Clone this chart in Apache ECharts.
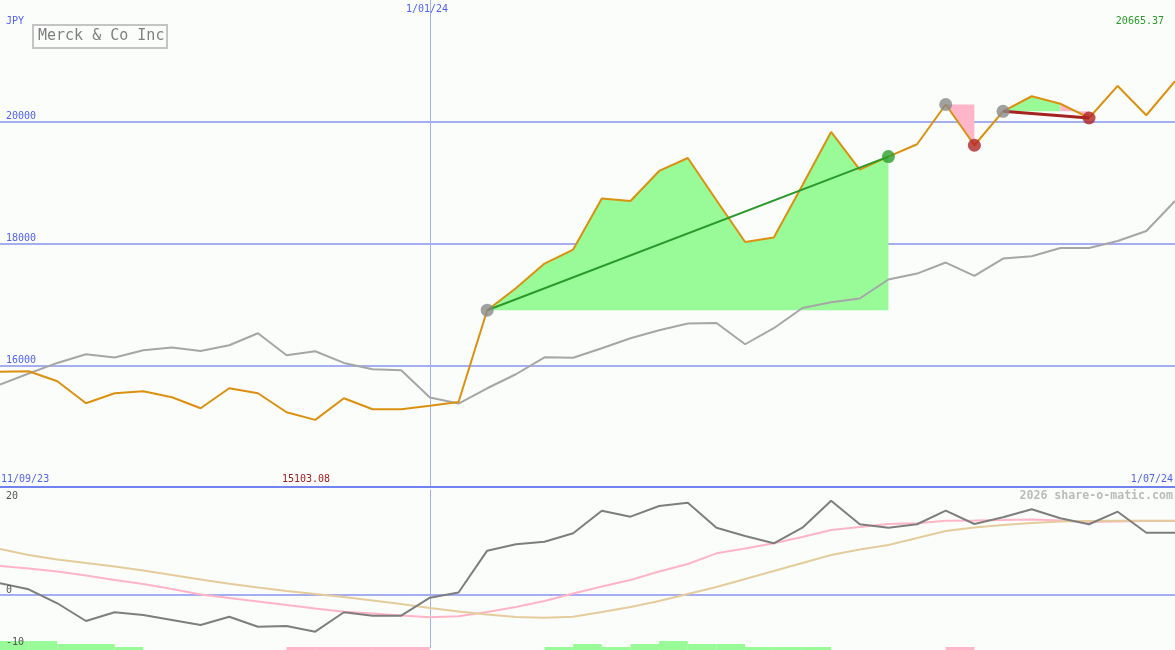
<!DOCTYPE html>
<html>
<head>
<meta charset="utf-8">
<script src="https://cdn.jsdelivr.net/npm/echarts@6/dist/echarts.min.js"></script>
<style>
html,body{margin:0;padding:0;background:#fbfdfb;}
#c{width:1175px;height:650px;}
</style>
</head>
<body>
<div id="c"></div>
<script>
// ---- data ----
const dates = ['18/09/23','25/09/23','2/10/23','9/10/23','16/10/23','23/10/23','30/10/23','6/11/23','13/11/23','20/11/23','27/11/23','4/12/23','11/12/23','18/12/23','25/12/23','1/01/24','8/01/24','15/01/24','22/01/24','29/01/24','5/02/24','12/02/24','19/02/24','26/02/24','4/03/24','11/03/24','18/03/24','25/03/24','1/04/24','8/04/24','15/04/24','22/04/24','29/04/24','6/05/24','13/05/24','20/05/24','27/05/24','3/06/24','10/06/24','17/06/24','24/06/24','1/07/24'];
const price = [15893,15901,15737,15376,15540,15573,15474,15294,15622,15540,15228,15103.08,15458,15277,15277,15335,15397,16904,17265,17671,17901,18738,18699,19192,19405,18710,18025,18098,18957,19832,19215,19428,19630,20283,19614,20172,20419,20296,20062,20588,20107,20665.37];
const bench = [15683,15864,16038,16181,16126,16246,16291,16235,16329,16526,16164,16230,16038,15934,15918,15469,15371,15622,15852,16131,16123,16279,16444,16575,16685,16695,16345,16608,16941,17035,17096,17408,17506,17687,17467,17753,17791,17927,17927,18042,18206,18699];
const osc = [2.22,1.08,-1.57,-4.93,-3.28,-3.80,-4.74,-5.69,-4.12,-6.02,-5.88,-6.96,-3.28,-3.93,-3.93,-0.51,0.47,8.41,9.62,10.11,11.71,16.0,14.86,16.89,17.51,12.77,11.20,9.81,12.77,17.89,13.42,12.77,13.42,16.0,13.47,14.74,16.26,14.55,13.42,15.81,11.82,11.82];
const oscFast = [5.50,5.03,4.46,3.70,2.85,2.09,1.14,0.09,-0.57,-1.23,-1.90,-2.56,-3.17,-3.51,-3.89,-4.23,-4.04,-3.23,-2.28,-1.14,0.28,1.61,2.85,4.46,5.88,7.91,8.82,9.81,11.0,12.33,12.90,13.47,13.6,14.1,14.14,14.23,14.33,14.14,13.85,13.95,14.04,14.04];
const oscSlow = [8.73,7.59,6.74,6.07,5.41,4.65,3.80,2.94,2.14,1.42,0.76,0.19,-0.38,-1.04,-1.71,-2.47,-3.13,-3.70,-4.17,-4.31,-4.12,-3.23,-2.28,-1.14,0.19,1.52,3.04,4.55,6.07,7.59,8.63,9.49,10.82,12.14,12.81,13.28,13.66,13.95,14.04,14.10,14.10,14.10];
const barUp = [3,3,2,2,1,'-','-','-','-','-','-','-','-','-','-','-','-','-','-',1,2,1,2,3,2,2,1,1,1,'-','-','-','-','-','-','-','-','-','-','-','-'];
const barDown = ['-','-','-','-','-','-','-','-','-','-',1,1,1,1,1,'-','-','-','-','-','-','-','-','-','-','-','-','-','-','-','-','-','-',1,'-','-','-','-','-','-','-'];
const priceTicks = [16000, 18000, 20000];
const oscTicks = [0, -10];
const title = 'Merck & Co Inc';
const currency = 'JPY';
const startLabel = '11/09/23';
const endLabel = '1/07/24';
const yearLabel = '1/01/24';
const yearIndex = 15;
const lastLabel = '20665.37';
const minLabel = '15103.08';
const credit = '2026 share-o-matic.com';
// signal segments: [startIndex, endIndex, baseIndex]
const upTrend = [17, 31];
const downTrend = [35, 38];
const upFills = [[17, 31, 17], [35, 37, 35]];
const downFills = [[33, 34, 33], [37, 38, 35]];
const greyMarks = [17, 33, 35];
const greenMarks = [31];
const redMarks = [34, 38];

// ---- helpers ----
function slice(a, b) { return price.map((v, i) => (i >= a && i <= b) ? v : '-'); }
function seg(a, b) { return price.map((v, i) => (i === a || i === b) ? v : '-'); }
const intervals = dates.slice(1);

const mono = 'DejaVu Sans Mono';
const blue = '#5262f0';
const grid = '#a6aef2';

const series = [];
upFills.forEach(([a, b, o]) => series.push({
  type: 'line', xAxisIndex: 0, yAxisIndex: 0, data: slice(a, b), symbol: 'none',
  lineStyle: { width: 0 }, areaStyle: { color: '#98fb98', opacity: 1, origin: price[o] }, z: 1, silent: true
}));
downFills.forEach(([a, b, o]) => series.push({
  type: 'line', xAxisIndex: 0, yAxisIndex: 0, data: slice(a, b), symbol: 'none',
  lineStyle: { width: 0 }, areaStyle: { color: '#ffb6c8', opacity: 1, origin: price[o] }, z: 1, silent: true
}));
series.push({ type: 'line', xAxisIndex: 0, yAxisIndex: 0, data: bench, symbol: 'none', lineStyle: { color: '#a6a6a6', width: 2 }, z: 2 });
series.push({ type: 'line', xAxisIndex: 0, yAxisIndex: 0, data: price, symbol: 'none', lineStyle: { color: '#dc9010', width: 2 }, z: 3 });
series.push({ type: 'line', xAxisIndex: 0, yAxisIndex: 0, data: seg(upTrend[0], upTrend[1]), connectNulls: true, symbol: 'none', lineStyle: { color: '#2a992a', width: 2 }, z: 4 });
series.push({ type: 'line', xAxisIndex: 0, yAxisIndex: 0, data: seg(downTrend[0], downTrend[1]), connectNulls: true, symbol: 'none', lineStyle: { color: '#a52222', width: 3 }, z: 4 });
series.push({ type: 'scatter', xAxisIndex: 0, yAxisIndex: 0, symbolSize: 13, data: greyMarks.map(i => [i, price[i]]), itemStyle: { color: '#8a8a8a' }, z: 5 });
series.push({ type: 'scatter', xAxisIndex: 0, yAxisIndex: 0, symbolSize: 13, data: greenMarks.map(i => [i, price[i]]), itemStyle: { color: '#2c9f2c' }, z: 5 });
series.push({ type: 'scatter', xAxisIndex: 0, yAxisIndex: 0, symbolSize: 13, data: redMarks.map(i => [i, price[i]]), itemStyle: { color: '#b02424' }, z: 5 });

series.push({ type: 'bar', xAxisIndex: 2, yAxisIndex: 2, data: barUp, barCategoryGap: '0%', barGap: '-100%', itemStyle: { color: '#98fb98' }, z: 1 });
series.push({ type: 'bar', xAxisIndex: 2, yAxisIndex: 2, data: barDown, barCategoryGap: '0%', barGap: '-100%', itemStyle: { color: '#ffb6c8' }, z: 1 });
series.push({ type: 'line', xAxisIndex: 1, yAxisIndex: 1, data: oscFast, symbol: 'none', lineStyle: { color: '#ffb4c8', width: 2 }, z: 2 });
series.push({ type: 'line', xAxisIndex: 1, yAxisIndex: 1, data: oscSlow, symbol: 'none', lineStyle: { color: '#e4cc9c', width: 2 }, z: 3 });
series.push({ type: 'line', xAxisIndex: 1, yAxisIndex: 1, data: osc, symbol: 'none', lineStyle: { color: '#7e7e7e', width: 2 }, z: 4,
  markLine: { silent: true, symbol: 'none', label: { show: false }, lineStyle: { color: grid, width: 2, type: 'solid' }, data: [{ yAxis: 0 }], z: 1 } });

const txt = (x, y, text, color, opts) => Object.assign({
  type: 'text', x: x, y: y, z: 100,
  style: { text: text, fill: color, font: '10px "' + mono + '"', verticalAlign: 'middle' }
}, opts || {});

const option = {
  backgroundColor: '#fbfdfb',
  animation: false,
  grid: [
    { left: 0, right: 0, top: 0, height: 487 },
    { left: 0, right: 0, top: 489.6, height: 158.1 },
    { left: 0, right: 0, top: 487, height: 163 }
  ],
  xAxis: [
    { gridIndex: 0, type: 'category', data: dates, boundaryGap: false,
      axisLine: { show: false }, axisTick: { show: false }, axisLabel: { show: false },
      splitLine: { show: true, interval: (i) => i === yearIndex, lineStyle: { color: grid, width: 1 } } },
    { gridIndex: 1, type: 'category', data: dates, boundaryGap: false,
      axisLine: { show: false }, axisTick: { show: false }, axisLabel: { show: false },
      splitLine: { show: true, interval: (i) => i === yearIndex, lineStyle: { color: grid, width: 1 } } },
    { gridIndex: 2, type: 'category', data: intervals, boundaryGap: true, position: 'top', z: 20,
      axisLine: { show: true, onZero: false, lineStyle: { color: '#7282f0', width: 2 } }, axisTick: { show: false }, axisLabel: { show: false },
      splitLine: { show: false } }
  ],
  yAxis: [
    { gridIndex: 0, type: 'value', min: 14000, max: 22000, interval: 2000,
      axisLine: { show: false }, axisTick: { show: false },
      axisLabel: { inside: true, margin: 6, verticalAlign: 'bottom', color: blue, fontFamily: mono, fontSize: 10,
        showMinLabel: false, showMaxLabel: false,
        formatter: (v) => priceTicks.includes(v) ? String(v) : '' },
      splitLine: { show: true, showMinLine: false, showMaxLine: false, lineStyle: { color: grid, width: 2 } } },
    { gridIndex: 1, type: 'value', min: -10, max: 20, interval: 10, z: 20,
      axisLine: { show: false }, axisTick: { show: false },
      axisLabel: { inside: true, margin: 6, verticalAlign: 'bottom', color: '#555555', fontFamily: mono, fontSize: 10,
        formatter: (v) => oscTicks.includes(v) ? String(v) : '' },
      splitLine: { show: false } },
    { gridIndex: 2, type: 'value', min: 0, max: 54.33, show: false, splitLine: { show: false } }
  ],
  series: series,
  graphic: [
    { type: 'rect', z: 100, shape: { x: 33, y: 25, width: 134, height: 23 }, style: { fill: '#fbfdfb', stroke: '#c4c4c4', lineWidth: 2 } },
    txt(38, 36.5, title, '#808080', { style: { text: title, fill: '#808080', font: '15px "' + mono + '"', verticalAlign: 'middle' } }),
    txt(6, 21, currency, blue),
    txt(427, 9, yearLabel, blue, { style: { text: yearLabel, fill: blue, font: '10px "' + mono + '"', align: 'center', verticalAlign: 'middle' } }),
    txt(1164, 21, lastLabel, '#2a9a2a', { style: { text: lastLabel, fill: '#2a9a2a', font: '10px "' + mono + '"', align: 'right', verticalAlign: 'middle' } }),
    txt(1, 479, startLabel, blue),
    txt(306, 479, minLabel, '#a01c1c', { style: { text: minLabel, fill: '#a01c1c', font: '10px "' + mono + '"', align: 'center', verticalAlign: 'middle' } }),
    txt(1173, 479, endLabel, blue, { style: { text: endLabel, fill: blue, font: '10px "' + mono + '"', align: 'right', verticalAlign: 'middle' } }),
    txt(1173, 496, credit, '#bbbbbb', { style: { text: credit, fill: '#bbbbbb', font: 'bold 11.6px "' + mono + '"', align: 'right', verticalAlign: 'middle' } }),
    txt(6, 496, '20', '#555555')
  ]
};
const chart = echarts.init(document.getElementById('c'), null, { renderer: 'canvas' });
chart.setOption(option);
</script>
</body>
</html>
